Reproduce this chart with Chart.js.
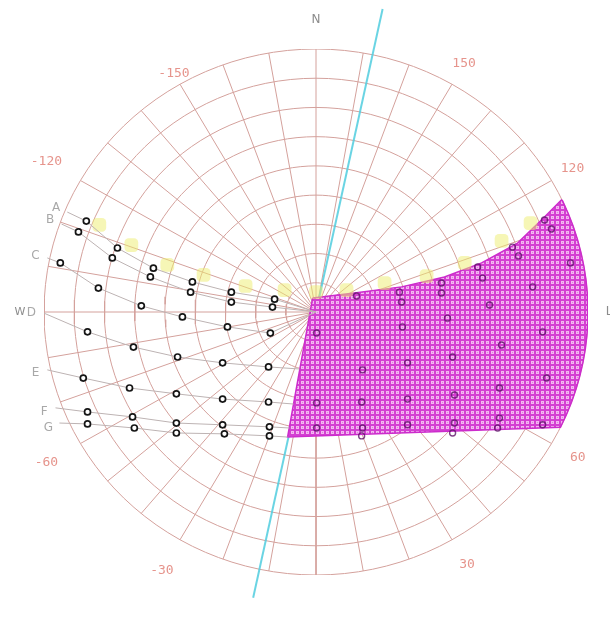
<!DOCTYPE html>
<html>
<head>
<meta charset="utf-8">
<script src="https://cdn.jsdelivr.net/npm/chart.js@4.4.0/dist/chart.umd.min.js"></script>
<style>
  html, body { margin: 0; padding: 0; background: #fff; }
  canvas { display: block; }
</style>
</head>
<body>
<canvas id="sunChart" width="610" height="621"></canvas>
<script>
// grid of the diagram (altitude rings, azimuth spokes)
const ringAltitudes = [0, 10, 20, 30, 40, 50, 60, 70, 80];
const spokeAzimuths = [-180, -170, -160, -150, -140, -130, -120, -110, -100, -90, -80, -70, -60, -50, -40, -30, -20, -10,
  0, 10, 20, 30, 40, 50, 60, 70, 80, 90, 100, 110, 120, 130, 140, 150, 160, 170];

// azimuth tick labels
const azTickValues = [-150, -120, -60, -30, 30, 60, 120, 150];
const azTickLabels = ['-150', '-120', '-60', '-30', '30', '60', '120', '150'];

// rows of obstruction points (x = east/west, y = north/south, horizon = 90)
const rowLetters = ['A', 'B', 'C', 'D', 'E', 'F', 'G'];
const rowX = [
  [-82.3, -76.0, -65.7, -53.8, -40.9, -28.0, -13.7, 0],
  [-84.2, -78.6, -67.4, -54.8, -41.5, -28.0, -14.4, 0],
  [-88.9, -84.6, -72.0, -57.8, -44.2, -29.3, -15.1, 0],
  [-90.2, -75.6, -60.4, -45.8, -30.9, -15.7, -5.5],
  [-88.9, -77.0, -61.7, -46.2, -30.9, -15.7, -7.4],
  [-86.2, -75.6, -60.7, -46.2, -30.9, -15.4, -8.8],
  [-84.9, -75.6, -60.1, -46.2, -30.3, -15.4, -9.4]
];
const rowY = [
  [34.2, 31.1, 21.9, 15.0, 10.3, 6.8, 4.4, 0],
  [30.1, 27.4, 18.5, 12.0, 6.8, 3.4, 1.7, 0],
  [18.5, 16.8, 8.2, 2.1, -1.7, -5.1, -7.2, 0],
  [-0.3, -6.8, -12.0, -15.4, -17.4, -18.8, -19.5],
  [-19.8, -22.6, -26.0, -28.0, -29.8, -30.8, -31.5],
  [-32.8, -34.2, -35.9, -38.0, -38.6, -39.3, -39.7],
  [-38.0, -38.3, -39.7, -41.4, -41.7, -42.4, -42.8]
];

// sun path markers
const sunX = [-71.7, -61.1, -49.2, -37.2, -23.3, -10.4, 0, 10.1, 22.7, 36.6, 49.2, 61.4, 71.0];
const sunY = [29.8, 22.9, 16.1, 12.7, 8.9, 7.5, 6.8, 7.5, 9.9, 12.3, 16.8, 24.3, 30.4];

// shaded region: upper edge, horizon arc, lower-left corner
const shadeTopX = [-1.1, 12.7, 28.3, 42.5, 54.8, 66.7, 75.6, 81.2];
const shadeTopY = [4.8, 6.5, 8.6, 12.0, 16.8, 23.6, 32.5, 38.3];
const shadeArcFrom = 115;
const shadeArcTo = 64;
const shadeCornerX = -9.4;
const shadeCornerY = -42.8;

// points inside the shaded region
const shadePtX = [13.4, 27.6, 28.3, 41.5, 41.5, 53.5, 55.1, 65.0, 67.0, 75.6, 77.9, 84.2, 71.7, 57.4, 43.5, 28.6, 0.2, 61.4, 75.0, 15.4,
  30.3, 45.2, 76.3, 0.2, 15.1, 30.3, 45.8, 60.7, 60.7, 45.8, 30.3, 15.4, 15.1, 0.2, 45.2, 75.0, 60.1];
const shadePtY = [5.5, 6.8, 3.4, 9.9, 6.5, 15.4, 11.6, 22.2, 19.2, 31.5, 28.4, 16.8, 8.6, 2.4, -2.1, -5.1, -7.2, -11.3, -6.8, -19.8,
  -17.4, -15.4, -22.6, -31.1, -30.8, -29.8, -28.4, -26.0, -36.3, -38.0, -38.6, -39.7, -42.4, -39.7, -41.4, -38.6, -39.7];

// orientation line
const axisAzimuth = 168;
const axisReach = [106, 100];

// label placement (distance from centre)
const azTickRadius = [94, 103, 103, 102, 100, 100, 98, 98];

function polar(az, r) {
  const a = az * Math.PI / 180;
  return { x: r * Math.sin(a), y: -r * Math.cos(a) };
}
function zip(xs, ys) {
  return xs.map((v, i) => ({ x: v, y: ys[i] }));
}

const canvas = document.getElementById('sunChart');

function dotPattern() {
  const c = document.createElement('canvas');
  c.width = 5; c.height = 5;
  const g = c.getContext('2d');
  g.fillStyle = '#d43fd2';
  g.fillRect(0, 0, 5, 5);
  g.fillStyle = '#f2b8f0';
  g.fillRect(1, 1, 3, 3);
  g.fillStyle = '#e27ee0';
  g.fillRect(2, 2, 1, 1);
  return canvas.getContext('2d').createPattern(c, 'repeat');
}

const datasets = [];

// rings
ringAltitudes.forEach(alt => {
  const pts = [];
  for (let a = -180; a <= 180; a += 3) pts.push(polar(a, 90 - alt));
  datasets.push({ data: pts, borderColor: '#d4a19c', borderWidth: 1, pointRadius: 0, order: 60 });
});
// spokes
spokeAzimuths.forEach(az => {
  datasets.push({ data: [{ x: 0, y: 0 }, polar(az, 90)], borderColor: '#d4a19c', borderWidth: 1, pointRadius: 0, order: 60 });
});

// orientation line
datasets.push({
  data: [polar(axisAzimuth, axisReach[0]), polar(axisAzimuth + 180, axisReach[1])],
  borderColor: 'rgba(80,205,222,0.85)', borderWidth: 2, pointRadius: 0, clip: false, order: 50
});

// shaded polygon
const shadePoly = zip(shadeTopX, shadeTopY);
for (let a = shadeArcFrom; a >= shadeArcTo; a -= 3) shadePoly.push(polar(a, 90));
shadePoly.push(polar(shadeArcTo, 90));
shadePoly.push({ x: shadeCornerX, y: shadeCornerY });
shadePoly.push({ x: shadeTopX[0], y: shadeTopY[0] });
datasets.push({
  data: shadePoly, borderColor: '#cc2ccc', borderWidth: 1.5, pointRadius: 0,
  backgroundColor: dotPattern(), fill: 'shape', order: 30
});

// sun path
datasets.push({
  data: zip(sunX, sunY), showLine: false, pointRadius: 8, pointStyle: 'rectRounded',
  pointBackgroundColor: 'rgba(238,238,110,0.5)', pointBorderWidth: 0, order: 25
});

// rows A-G
rowLetters.forEach((letter, i) => {
  const n = rowX[i].length;
  datasets.push({
    label: letter,
    data: zip(rowX[i], rowY[i]),
    borderColor: '#bdb3b3', borderWidth: 1,
    pointRadius: ctx => (ctx.dataIndex === 0 || ctx.dataIndex === n - 1) ? 0 : 3,
    pointBorderColor: '#151515', pointBorderWidth: 1.7, pointBackgroundColor: '#fff',
    order: 20
  });
});

// points inside shaded area
datasets.push({
  data: zip(shadePtX, shadePtY), showLine: false, pointRadius: 3,
  pointBorderColor: 'rgba(95,20,105,0.8)', pointBorderWidth: 1.4, pointBackgroundColor: 'rgba(0,0,0,0)',
  order: 10
});

const labelPlugin = {
  id: 'diagramLabels',
  afterDatasetsDraw(chart) {
    const { ctx, scales: { x, y } } = chart;
    const put = (p, text) => ctx.fillText(text, x.getPixelForValue(p.x), y.getPixelForValue(p.y));
    ctx.save();
    ctx.textAlign = 'center';
    ctx.textBaseline = 'middle';
    ctx.font = '13px "DejaVu Sans Mono"';
    ctx.fillStyle = '#e6948c';
    azTickValues.forEach((az, i) => put(polar(az, azTickRadius[i]), azTickLabels[i]));

    ctx.font = '12px "DejaVu Sans"';
    ctx.fillStyle = '#8c8c8c';
    put(polar(180, 100), 'N');
    put(polar(90, 97), 'L');
    ctx.font = '11px "DejaVu Sans"';
    put(polar(-90, 98), 'W');

    ctx.font = '12px "DejaVu Sans"';
    ctx.fillStyle = '#a8a8a8';
    rowLetters.forEach((letter, i) => {
      const sx = rowX[i][0], sy = rowY[i][0];
      const r = Math.hypot(sx, sy);
      const k = (r + 4) / r;
      put({ x: sx * k, y: sy * k }, letter);
    });
    ctx.restore();
  }
};

new Chart(canvas, {
  type: 'line',
  data: { datasets },
  options: {
    responsive: false,
    animation: false,
    layout: { padding: { left: 44, right: 22, top: 49, bottom: 46 } },
    scales: {
      x: { type: 'linear', min: -90, max: 90, display: false },
      y: { type: 'linear', min: -90, max: 90, display: false }
    },
    elements: { line: { tension: 0 } },
    plugins: { legend: { display: false }, tooltip: { enabled: false } }
  },
  plugins: [labelPlugin]
});
</script>
</body>
</html>
